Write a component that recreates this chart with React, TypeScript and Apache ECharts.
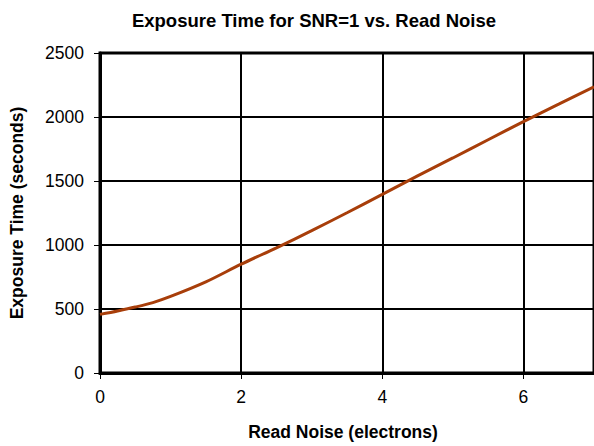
import React, { useEffect, useRef } from "react";
import * as echarts from "echarts";

const readNoise = [0, 0.25, 0.5, 0.75, 1, 1.5, 2, 2.5, 3, 3.5, 4, 4.5, 5, 5.5, 6, 6.5, 7];
const exposureTime = [458, 485, 515, 550, 598, 712, 850, 978, 1112, 1252, 1395, 1540, 1680, 1822, 1964, 2100, 2236];
const xTicks = [0, 2, 4, 6];
const yTicks = [0, 500, 1000, 1500, 2000, 2500];

export default function App() {
  const ref = useRef<HTMLDivElement>(null);
  useEffect(() => {
    if (!ref.current) return;
    const chart = echarts.init(ref.current, null, { renderer: "svg" });
    const font = "'Liberation Sans', Arial, sans-serif";
    chart.setOption({
      animation: false,
      backgroundColor: "#ffffff",
      title: {
        text: "Exposure Time for SNR=1 vs. Read Noise",
        left: 309,
        textAlign: "center",
        top: 6,
        textStyle: { fontFamily: font, fontSize: 18.5, fontWeight: "bold", color: "#000" },
      },
      grid: {
        left: 99,
        top: 53,
        right: -2,
        bottom: 69,
        show: true,
        borderColor: "#000",
        borderWidth: 3,
        backgroundColor: "transparent",
      },
      xAxis: {
        type: "value",
        min: 0,
        max: 7,
        interval: 2,
        name: "Read Noise (electrons)",
        nameLocation: "middle",
        nameGap: 50,
        nameTextStyle: { fontFamily: font, fontSize: 17.5, fontWeight: "bold", color: "#000", padding: [0, 8, 0, 0] },
        axisLine: { show: true, lineStyle: { color: "#000", width: 3 } },
        axisTick: { show: true, inside: false, length: 6, lineStyle: { color: "#000", width: 1 } },
        axisLabel: {
          fontFamily: font,
          fontSize: 17.5,
          color: "#000",
          margin: 15,
          showMaxLabel: false,
          formatter: (v: number) => (xTicks.includes(v) ? String(v) : ""),
        },
        splitLine: { show: true, lineStyle: { color: "#000", width: 2 } },
      },
      yAxis: {
        type: "value",
        min: 0,
        max: 2500,
        interval: 500,
        name: "Exposure Time (seconds)",
        nameLocation: "middle",
        nameGap: 74,
        nameTextStyle: { fontFamily: font, fontSize: 17.5, fontWeight: "bold", color: "#000" },
        axisLine: { show: true, lineStyle: { color: "#000", width: 3 } },
        axisTick: { show: true, inside: false, length: 6, lineStyle: { color: "#000", width: 1 } },
        axisLabel: {
          fontFamily: font,
          fontSize: 17.5,
          color: "#000",
          margin: 16,
          formatter: (v: number) => (yTicks.includes(v) ? String(v) : ""),
        },
        splitLine: { show: true, lineStyle: { color: "#000", width: 2 } },
      },
      series: [
        {
          type: "line",
          data: readNoise.map((x, i) => [x, exposureTime[i]]),
          smooth: 0.3,
          showSymbol: false,
          lineStyle: { color: "#A83E0A", width: 3 },
        },
      ],
    });
    return () => chart.dispose();
  }, []);
  return <div ref={ref} style={{ width: 594, height: 446, position: "absolute", left: 0, top: 0 }} />;
}
